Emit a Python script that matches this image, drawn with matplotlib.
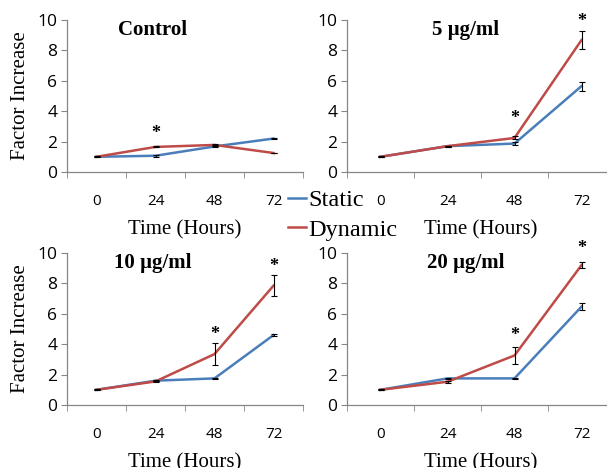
import matplotlib
matplotlib.use("Agg")
import matplotlib.pyplot as plt
import numpy as np

# ---- data ----
times = ["0", "24", "48", "72"]
panel_titles = ["Control", "5 µg/ml", "10 µg/ml", "20 µg/ml"]

static_control = [1.0, 1.07, 1.68, 2.2]
dynamic_control = [1.0, 1.65, 1.78, 1.25]
static_control_err = [0.02, 0.06, 0.03, 0.06]
dynamic_control_err = [0.02, 0.03, 0.03, 0.03]

static_5 = [1.0, 1.7, 1.87, 5.65]
dynamic_5 = [1.0, 1.7, 2.24, 8.68]
static_5_err = [0.02, 0.03, 0.08, 0.3]
dynamic_5_err = [0.02, 0.03, 0.1, 0.58]

static_10 = [1.0, 1.6, 1.75, 4.6]
dynamic_10 = [1.0, 1.55, 3.35, 7.85]
static_10_err = [0.02, 0.03, 0.03, 0.06]
dynamic_10_err = [0.02, 0.03, 0.7, 0.68]

static_20 = [1.0, 1.75, 1.75, 6.47]
dynamic_20 = [1.0, 1.53, 3.26, 9.2]
static_20_err = [0.02, 0.05, 0.03, 0.25]
dynamic_20_err = [0.02, 0.08, 0.53, 0.2]

# significance markers: (time index, y position)
stars_control = [(1, 2.55)]
stars_5 = [(2, 3.5), (3, 9.9)]
stars_10 = [(2, 4.65), (3, 9.1)]
stars_20 = [(2, 4.55), (3, 10.3)]

series = [
    (static_control, static_control_err, dynamic_control, dynamic_control_err, stars_control),
    (static_5, static_5_err, dynamic_5, dynamic_5_err, stars_5),
    (static_10, static_10_err, dynamic_10, dynamic_10_err, stars_10),
    (static_20, static_20_err, dynamic_20, dynamic_20_err, stars_20),
]

BLUE = "#4A7EBB"
RED = "#BE4B48"
GRAY = "#868686"
SERIF = "Liberation Serif"
SANS = "Open Sans"

W, H = 607, 468
fig = plt.figure(figsize=(W / 100, H / 100), dpi=100)

# axes rectangles in pixels: (left, top, right, bottom)
rects = [(67, 20, 303, 172), (347, 20, 615, 172), (67, 253, 303, 405), (347, 253, 615, 405)]
title_x_px = [86, 119, 86, 119]

handles = None
for i, ((s, se, d, de, stars), (l, t, r, b)) in enumerate(zip(series, rects)):
    ax = fig.add_axes([l / W, 1 - b / H, (r - l) / W, (b - t) / H])
    x = np.arange(len(times))
    hs, = ax.plot(x, s, color=BLUE, lw=1.8, label="Static", zorder=3)
    hd, = ax.plot(x, d, color=RED, lw=1.8, label="Dynamic", zorder=4)
    ax.errorbar(x, s, yerr=se, fmt="none", ecolor="black", elinewidth=0.8, capsize=2.2, capthick=0.8, zorder=5)
    ax.errorbar(x, d, yerr=de, fmt="none", ecolor="black", elinewidth=0.8, capsize=2.2, capthick=0.8, zorder=5)
    handles = [hs, hd]
    for (xi, yv) in stars:
        ax.text(xi, yv, "*", ha="center", va="center", fontsize=13, fontweight="bold",
                family=SERIF, color="black")
    ax.set_xlim(-0.5, len(times) - 0.5)
    ax.set_ylim(0, 10)
    ax.set_yticks([0, 2, 4, 6, 8, 10])
    ax.set_xticks(x)
    ax.set_xticklabels(times, fontsize=11, family=SANS)
    ax.set_xticks(np.arange(-0.5, len(times)), minor=True)
    ax.tick_params(axis="x", which="major", length=0, pad=16)
    ax.tick_params(axis="x", which="minor", length=4, color=GRAY, direction="out")
    ax.tick_params(axis="y", length=4, color=GRAY, direction="out", labelsize=12.5, pad=3)
    for lab in ax.get_yticklabels():
        lab.set_family(SANS)
    for sp in ["top", "right"]:
        ax.spines[sp].set_visible(False)
    for sp in ["left", "bottom"]:
        ax.spines[sp].set_color(GRAY)
        ax.spines[sp].set_linewidth(0.9)
    ax.set_xlabel("Time (Hours)", family=SERIF, fontsize=15, labelpad=8)
    if i in (0, 2):
        ax.set_ylabel("Factor Increase", family=SERIF, fontsize=15, labelpad=5)
    ax.text(title_x_px[i] / (r - l), 1.0, panel_titles[i], transform=ax.transAxes,
            ha="center", va="top", family=SERIF, fontweight="bold", fontsize=15)

fig.legend(handles=handles, labels=["Static", "Dynamic"], loc="upper left",
           bbox_to_anchor=(288 / W, 1 - 189 / H), frameon=False,
           prop={"family": SERIF, "size": 17.5}, handlelength=0.75, handletextpad=0.1,
           labelspacing=0.32, borderpad=0, borderaxespad=0)

fig.savefig("out.png", dpi=100)
